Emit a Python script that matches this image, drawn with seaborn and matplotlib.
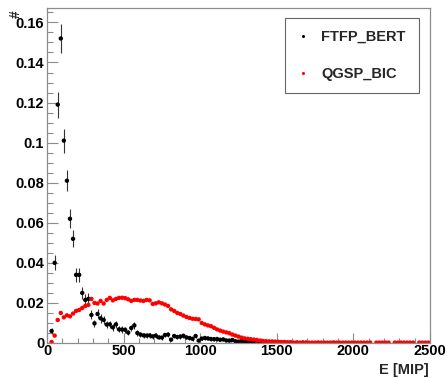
import numpy as np
import pandas as pd
import matplotlib
matplotlib.use("Agg")
import matplotlib.pyplot as plt
import seaborn as sns
from matplotlib.ticker import MultipleLocator, FuncFormatter
from matplotlib.lines import Line2D

nan = np.nan
# bin centres of the energy histogram (20 MIP bins, 0-2500 MIP)
bin_low, bin_width, n_bins = 0, 20, 125
energy = bin_low + bin_width * (np.arange(n_bins) + 0.5)

series_names = ["FTFP_BERT", "QGSP_BIC"]
series_colors = ["black", "red"]

ftfp_bert = [
    nan, 0.006, 0.040, 0.119, 0.152, 0.101, 0.081, 0.062, 0.052, 0.034,
    0.034, 0.025, 0.0215, 0.022, 0.014, 0.0098, 0.0145, 0.0123, 0.0115, 0.0092,
    0.0093, 0.0078, 0.0093, 0.0068, 0.0067, 0.0066, 0.0052, 0.0075, 0.0088, 0.0050,
    0.0042, 0.0038, 0.0037, 0.0038, 0.0033, 0.0037, 0.0028, 0.0027, 0.0040, 0.0042,
    0.0017, 0.0035, 0.0030, 0.0032, 0.0036, 0.0028, 0.0025, 0.0021, 0.0035, 0.0012,
    0.0022, 0.0025, 0.0023, 0.0020, 0.0019, 0.0020, 0.0016, 0.0018, 0.0013, 0.0012,
    0.0015, 0.0009, 0.0007, 0.0010, 0.0008, 0.0006, 0.0009, 0.0007, 0.0012, 0.0005,
    0.0004, 0.0006, 0.0003, 0.0002, 0.0002, 0.0002, 0.0001, 0.0002, nan, 0.0001,
    nan, 0.0001, nan, 0.0002, nan, nan, nan, nan, nan, nan,
    nan, nan, nan, nan, nan, nan, nan, nan, nan, nan,
    nan, nan, nan, nan, nan, nan, nan, nan, nan, nan,
    nan, nan, nan, nan, nan, nan, nan, nan, nan, nan,
    nan, nan, nan, nan, nan,
]

qgsp_bic = [
    nan, 0.0005, 0.0037, 0.0115, 0.0150, 0.0128, 0.0138, 0.0133, 0.0147, 0.0160,
    0.0165, 0.0175, 0.0185, 0.0190, 0.0220, 0.0200, 0.0197, 0.0210, 0.0197, 0.0215,
    0.0225, 0.0213, 0.0220, 0.0225, 0.0226, 0.0224, 0.0218, 0.0210, 0.0215, 0.0215,
    0.0212, 0.0210, 0.0215, 0.0213, 0.0195, 0.0198, 0.0203, 0.0198, 0.0192, 0.0185,
    0.0168, 0.0160, 0.0150, 0.0145, 0.0137, 0.0130, 0.0125, 0.0121, 0.0120, 0.0118,
    0.0100, 0.0093, 0.0088, 0.0084, 0.0076, 0.0068, 0.0062, 0.0057, 0.0053, 0.0049,
    0.0042, 0.0037, 0.0032, 0.0027, 0.0023, 0.0021, 0.0019, 0.0017, 0.0015, 0.0012,
    0.0010, 0.0009, 0.0008, 0.0008, 0.0007, 0.0006, 0.0005, 0.0005, 0.0004, 0.0004,
    0.0002, 0.0003, 0.0002, 0.0002, 0.0003, 0.0002, 0.0002, 0.0002, 0.0003, 0.0002,
    0.0002, 0.0002, 0.0002, 0.0003, 0.0002, 0.0002, 0.0002, 0.0002, 0.0002, 0.0002,
    0.0002, 0.0002, 0.0002, 0.0002, 0.0002, 0.0002, nan, 0.0002, 0.0002, 0.0002,
    0.0002, 0.0002, nan, 0.0002, 0.0002, 0.0002, 0.0002, 0.0002, 0.0002, 0.0002,
    nan, 0.0002, 0.0002, 0.0002, 0.0002,
]

# Poisson-like relative error scale of the FTFP_BERT histogram
ftfp_err_scale = 0.0188

x_ticks_major, x_ticks_minor = 500, 100
y_ticks_major, y_ticks_minor = 0.02, 0.005
x_label = "E [MIP]"
y_label = "#"

# ------------------------------------------------------------------
df = pd.concat([
    pd.DataFrame({"E": energy, "val": ftfp_bert, "model": series_names[0]}),
    pd.DataFrame({"E": energy, "val": qgsp_bic, "model": series_names[1]}),
]).dropna()

sns.set_style("white")
plt.rcParams["font.family"] = ["Liberation Sans", "DejaVu Sans"]
plt.rcParams["font.weight"] = "bold"

W, H = 447, 378
fig = plt.figure(figsize=(W / 100, H / 100), dpi=100)
ax = fig.add_axes([47 / W, (H - 343) / H, (430 - 47) / W, (343 - 8) / H])

# error bars of FTFP_BERT
fb = df[df["model"] == series_names[0]]
err = ftfp_err_scale * np.sqrt(fb["val"].values)
ax.vlines(fb["E"], fb["val"] - err, fb["val"] + err, colors="#333333",
          linewidth=0.8, zorder=1)

sns.scatterplot(data=df, x="E", y="val", hue="model",
                palette=dict(zip(series_names, series_colors)),
                s=10, linewidth=0, edgecolor="none", ax=ax, legend=False,
                zorder=2)

ax.set_xlim(0, 2500)
ax.set_ylim(0, 0.1672)
ax.set_xlabel("")
ax.set_ylabel("")

ax.xaxis.set_major_locator(MultipleLocator(x_ticks_major))
ax.xaxis.set_minor_locator(MultipleLocator(x_ticks_minor))
ax.yaxis.set_major_locator(MultipleLocator(y_ticks_major))
ax.yaxis.set_minor_locator(MultipleLocator(y_ticks_minor))
fmt = FuncFormatter(lambda v, p: "%g" % round(v, 4))
ax.xaxis.set_major_formatter(fmt)
ax.yaxis.set_major_formatter(fmt)

tick_col = "#8c8c8c"
ax.tick_params(axis="both", which="both", direction="in", color=tick_col,
               width=0.8, labelsize=10.5, labelcolor="black")
ax.tick_params(axis="x", which="major", length=7.2, pad=1)
ax.tick_params(axis="x", which="minor", length=3.6)
ax.tick_params(axis="y", which="major", length=8, pad=2)
ax.tick_params(axis="y", which="minor", length=4.3)
ax.tick_params(bottom=True, left=True, top=False, right=False, which="both")
for lab in ax.get_xticklabels() + ax.get_yticklabels():
    lab.set_fontweight("bold")
for sp in ax.spines.values():
    sp.set_color(tick_col)
    sp.set_linewidth(0.9)

fig.text(429 / W, (H - 370) / H, x_label, ha="right", va="center",
         fontsize=10.5, fontweight="bold")
fig.text(16 / W, (H - 14) / H, y_label, ha="center", va="center",
         rotation=90, fontsize=10, fontweight="bold")

handles = [Line2D([], [], linestyle="none", marker="o", markersize=2.2,
                  markerfacecolor=c, markeredgecolor="none")
           for c in series_colors]
ax_w = 430 - 47
ax_h = 343 - 8
lx0 = (285 - 47) / ax_w
lx1 = (419 - 47) / ax_w
ly1 = (343 - 18) / ax_h
leg = ax.legend(handles, series_names, loc="upper left",
                bbox_to_anchor=(lx0, 0, lx1 - lx0, ly1), mode="expand",
                frameon=True, fancybox=False, framealpha=1,
                edgecolor="#666666", borderpad=0.8, handlelength=0.8,
                handletextpad=0.9, labelspacing=1.6, borderaxespad=0,
                prop={"weight": "bold", "size": 10.5, "family": "Liberation Sans"})
leg.get_frame().set_linewidth(0.8)

fig.savefig("out.png", dpi=100)
